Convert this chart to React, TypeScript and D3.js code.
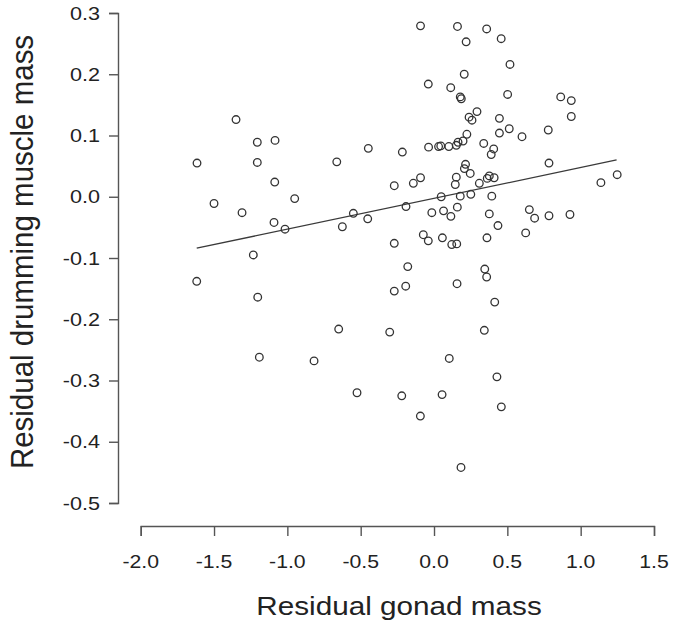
import React, { useEffect, useRef } from 'react'
import * as d3 from 'd3'

// residual gonad mass (x) and residual drumming muscle mass (y)
const gonadX = [
  -1.616, -1.35, -1.205, -1.084, -1.205, -0.663, -0.448, -0.216, -1.086, -0.271,
  -0.141, -1.5, -1.309, -0.95, -1.091, -1.016, -0.55, -0.452, -0.625, -0.191,
  -0.271, -1.232, -1.618, -1.202, -0.179, -0.271, -0.193, -0.65, -0.302, -1.191,
  -0.818, -0.525, -0.22, -0.073, -0.039, 0.057, 0.121, 0.155, 0.361, 0.625,
  0.436, 0.157, 0.346, 0.359, 0.414, 0.343, 0.104, 0.429, 0.055, -0.093,
  0.459, 0.184, -0.092, 0.16, 0.359, 0.219, 0.458, 0.518, 0.206, -0.039,
  0.114, 0.179, 0.186, 0.502, 0.864, 0.936, 0.936, 0.293, 0.239, 0.259,
  0.446, 0.513, 0.446, 0.6, 0.779, 0.224, 0.198, 0.164, 0.152, 0.101,
  0.046, 0.031, -0.037, 0.339, 0.407, 0.39, 0.784, 0.215, 0.207, 0.247,
  0.152, 0.145, 0.377, 0.41, 0.363, 0.309, -0.092, 1.138, 1.249, 0.049,
  0.179, 0.251, 0.394, -0.015, 0.065, 0.115, 0.159, 0.377, 0.65, 0.686,
  0.784, 0.927,
]
const drummingY = [
  0.055, 0.126, 0.089, 0.092, 0.056, 0.057, 0.079, 0.073, 0.024, 0.018,
  0.022, -0.011, -0.026, -0.003, -0.042, -0.053, -0.027, -0.036, -0.049, -0.016,
  -0.076, -0.095, -0.138, -0.164, -0.114, -0.154, -0.146, -0.216, -0.221, -0.262,
  -0.268, -0.32, -0.325, -0.062, -0.072, -0.067, -0.078, -0.077, -0.067, -0.059,
  -0.047, -0.142, -0.118, -0.131, -0.172, -0.218, -0.264, -0.294, -0.323, -0.358,
  -0.343, -0.442, 0.279, 0.278, 0.274, 0.253, 0.258, 0.216, 0.2, 0.184,
  0.178, 0.163, 0.16, 0.167, 0.163, 0.157, 0.131, 0.139, 0.13, 0.125,
  0.128, 0.111, 0.104, 0.098, 0.109, 0.102, 0.091, 0.089, 0.084, 0.082,
  0.083, 0.082, 0.081, 0.087, 0.078, 0.069, 0.055, 0.053, 0.046, 0.038,
  0.032, 0.02, 0.034, 0.031, 0.03, 0.022, 0.031, 0.023, 0.036, 0.0,
  0.001, 0.004, 0.001, -0.026, -0.023, -0.032, -0.017, -0.028, -0.021, -0.035,
  -0.031, -0.029,
]

const xTicks = [-2.0, -1.5, -1.0, -0.5, 0.0, 0.5, 1.0, 1.5]
const yTicks = [-0.5, -0.4, -0.3, -0.2, -0.1, 0.0, 0.1, 0.2, 0.3]

// fitted line
const fitRange = [-1.618, 1.245]
const fitIntercept = -0.0026
const fitSlope = 0.0503

const App = () => {
  const svgRef = useRef(null)

  useEffect(() => {
    const svg = d3.select(svgRef.current)
    svg.selectAll('*').remove()

    const font = '"Liberation Sans", Arial, Helvetica, sans-serif'
    const ink = '#222'

    const x = d3.scaleLinear().domain([-2, 1.5]).range([140.7, 654])
    const y = d3.scaleLinear().domain([-0.5, 0.3]).range([503, 13])

    // x axis (R style: line spans first to last tick)
    const xAxis = svg.append('g')
      .attr('transform', 'translate(0,526)')
      .call(d3.axisBottom(x).tickValues(xTicks).tickSize(10).tickSizeOuter(10).tickFormat(() => ''))
    xAxis.selectAll('path, line').attr('stroke', '#555').attr('stroke-width', 1.4)

    svg.append('g')
      .selectAll('text')
      .data(xTicks)
      .enter()
      .append('text')
      .attr('transform', d => `translate(${x(d)},568) scale(1.18,1)`)
      .attr('text-anchor', 'middle')
      .style('font-family', font)
      .style('font-size', '18px')
      .attr('fill', ink)
      .text(d => d3.format('.1f')(d).replace('−', '-'))

    // y axis
    const yAxis = svg.append('g')
      .attr('transform', 'translate(118,0)')
      .call(d3.axisLeft(y).tickValues(yTicks).tickSize(9).tickSizeOuter(9).tickFormat(() => ''))
    yAxis.selectAll('path, line').attr('stroke', '#555').attr('stroke-width', 1.4)

    svg.append('g')
      .selectAll('text')
      .data(yTicks)
      .enter()
      .append('text')
      .attr('transform', d => `translate(100,${y(d) + 6.5}) scale(1.2,1)`)
      .attr('text-anchor', 'end')
      .style('font-family', font)
      .style('font-size', '18px')
      .attr('fill', ink)
      .text(d => d3.format('.1f')(d).replace('−', '-'))

    // axis titles
    svg.append('text')
      .attr('transform', 'translate(399,615) scale(1.16,1)')
      .attr('text-anchor', 'middle')
      .style('font-family', font)
      .style('font-size', '25.6px')
      .attr('fill', ink)
      .text('Residual gonad mass')

    svg.append('text')
      .attr('transform', 'translate(33,252) rotate(-90) scale(1,1.08)')
      .attr('text-anchor', 'middle')
      .style('font-family', font)
      .style('font-size', '29.5px')
      .attr('fill', ink)
      .text('Residual drumming muscle mass')

    // regression line
    const line = d3.line()
      .x(d => x(d))
      .y(d => y(fitIntercept + fitSlope * d))
    svg.append('path')
      .datum(fitRange)
      .attr('d', line)
      .attr('fill', 'none')
      .attr('stroke', '#3a3a3a')
      .attr('stroke-width', 1.3)

    // points
    svg.append('g')
      .selectAll('circle')
      .data(gonadX.map((gx, i) => [gx, drummingY[i]]))
      .enter()
      .append('circle')
      .attr('cx', d => x(d[0]))
      .attr('cy', d => y(d[1]))
      .attr('r', 3.8)
      .attr('fill', 'none')
      .attr('stroke', '#333')
      .attr('stroke-width', 1.3)
  }, [])

  return (
    <svg
      ref={svgRef}
      width={673}
      height={622}
      style={{ position: 'absolute', left: 0, top: 0, background: '#fff' }}
    />
  )
}

export default App
